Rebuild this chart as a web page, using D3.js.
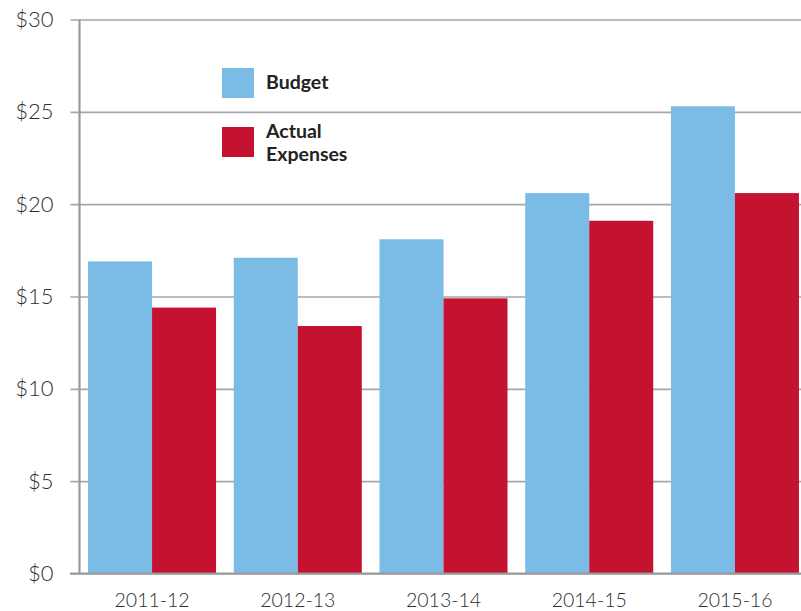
<!DOCTYPE html>
<html>
<head>
<meta charset="utf-8">
<script src="https://cdn.jsdelivr.net/npm/d3@7"></script>
<style>
  html, body { margin: 0; padding: 0; background: #fff; }
  svg { display: block; }
</style>
</head>
<body>
<svg id="chart" width="801" height="611"></svg>
<script>
// Fiscal years and their budget vs. actual spending (in $)
const years = ["2011-12", "2012-13", "2013-14", "2014-15", "2015-16"];
const budget = [16.9, 17.1, 18.1, 20.6, 25.3];
const actual = [14.4, 13.4, 14.9, 19.1, 20.6];
const yTicks = [0, 5, 10, 15, 20, 25, 30];
const seriesNames = ["Budget", "Actual Expenses"];

const colors = { budget: "#7bbce7", actual: "#c41230" };

const svg = d3.select("#chart");
const axisX = 79.5;

const y = d3.scaleLinear().domain([0, 30]).range([573.5, 19.5]);

const x0 = d3.scaleBand()
  .domain(years)
  .range([79.2, 807.8])
  .paddingInner(0.1215)
  .paddingOuter(0.0607);

const x1 = d3.scaleBand()
  .domain(["budget", "actual"])
  .range([0, x0.bandwidth()]);

// Horizontal gridlines with short ticks left of the axis
const yAxis = d3.axisLeft(y)
  .tickValues(yTicks)
  .tickSize(-(801 - axisX))
  .tickPadding(26)
  .tickFormat(d => "$" + d);

const gy = svg.append("g")
  .attr("transform", `translate(${axisX},0)`)
  .call(yAxis);
gy.select(".domain").remove();
gy.selectAll(".tick line")
  .attr("x1", -9)
  .attr("stroke", "#a6a6a6")
  .attr("stroke-width", 1.6);
gy.selectAll(".tick text")
  .attr("font-family", "Lato, sans-serif")
  .attr("font-weight", 300)
  .attr("font-size", 22)
  .attr("fill", "#2e2e2e");

// Grouped bars
const groups = svg.append("g")
  .selectAll("g")
  .data(years)
  .join("g")
  .attr("transform", d => `translate(${x0(d)},0)`);

groups.selectAll("rect")
  .data((d, i) => [
    { key: "budget", value: budget[i] },
    { key: "actual", value: actual[i] }
  ])
  .join("rect")
  .attr("x", d => x1(d.key))
  .attr("width", x1.bandwidth())
  .attr("y", d => y(d.value))
  .attr("height", d => y(0) - y(d.value))
  .attr("fill", d => colors[d.key]);

// Baseline and vertical axis line
svg.append("line")
  .attr("x1", 70).attr("x2", 801)
  .attr("y1", y(0)).attr("y2", y(0))
  .attr("stroke", "#9a9a9a").attr("stroke-width", 2.2);

svg.append("line")
  .attr("x1", axisX).attr("x2", axisX)
  .attr("y1", y(30)).attr("y2", y(0))
  .attr("stroke", "#9a9a9a").attr("stroke-width", 2.2);

// Category labels
const xAxis = d3.axisBottom(x0).tickSize(0).tickPadding(20);
const gx = svg.append("g")
  .attr("transform", `translate(0,${y(0)})`)
  .call(xAxis);
gx.select(".domain").remove();
gx.selectAll(".tick text")
  .attr("font-family", "Lato, sans-serif")
  .attr("font-weight", 300)
  .attr("font-size", 19.5)
  .attr("fill", "#2e2e2e");

// Legend
const legend = svg.append("g").attr("font-family", "Lato, sans-serif")
  .attr("font-weight", 700).attr("font-size", 19.5).attr("fill", "#222");

legend.append("rect")
  .attr("x", 222).attr("y", 68).attr("width", 32).attr("height", 30)
  .attr("fill", colors.budget);
legend.append("text")
  .attr("x", 266).attr("y", 89)
  .text(seriesNames[0]);

legend.append("rect")
  .attr("x", 222).attr("y", 127).attr("width", 32).attr("height", 30)
  .attr("fill", colors.actual);
const lt = legend.append("text").attr("x", 266).attr("y", 138);
const words = seriesNames[1].split(" ");
lt.append("tspan").attr("x", 266).text(words[0]);
lt.append("tspan").attr("x", 266).attr("dy", 23).text(words[1]);
</script>
</body>
</html>
